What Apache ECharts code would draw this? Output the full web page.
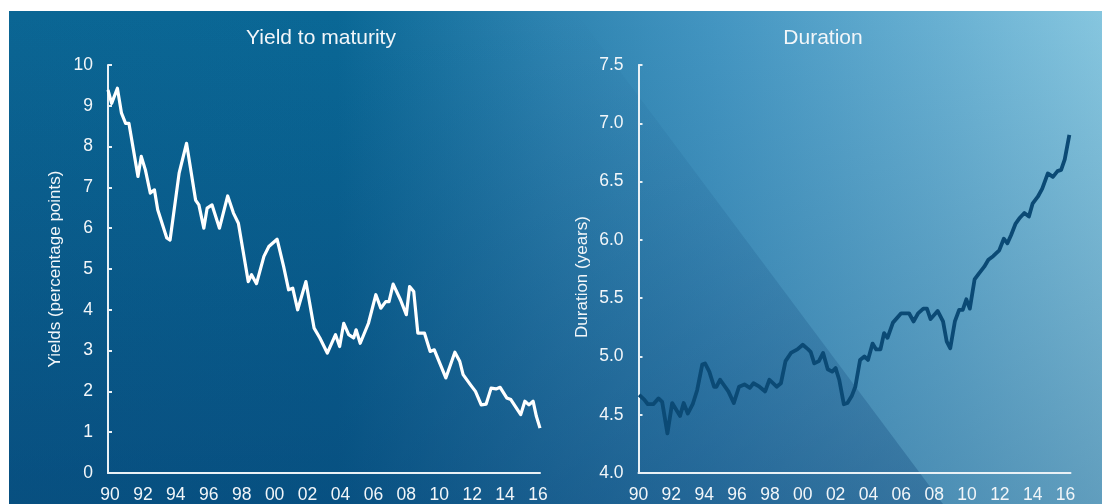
<!DOCTYPE html>
<html>
<head>
<meta charset="utf-8">
<script src="https://cdn.jsdelivr.net/npm/echarts@6/dist/echarts.min.js"></script>
<style>
html,body{margin:0;padding:0;background:#fff;}
#chart{width:1103px;height:504px;}
</style>
</head>
<body>
<div id="chart"></div>
<script>
// ---- Data ----
const xTickYears = [1990,1992,1994,1996,1998,2000,2002,2004,2006,2008,2010,2012,2014,2016];
const xTickLabels = ['90','92','94','96','98','00','02','04','06','08','10','12','14','16'];

const yieldYears = [1989.88,1990.1,1990.45,1990.7,1990.95,1991.15,1991.7,1991.9,1992.15,1992.45,1992.7,1992.9,1993.45,1993.65,1994.2,1994.65,1995.2,1995.4,1995.7,1995.9,1996.2,1996.65,1997.15,1997.5,1997.8,1998.4,1998.6,1998.9,1999.35,1999.65,2000.15,2000.55,2000.85,2001.1,2001.4,2001.9,2002.4,2002.75,2003.2,2003.7,2003.95,2004.2,2004.5,2004.8,2004.95,2005.2,2005.7,2006.15,2006.45,2006.75,2006.95,2007.2,2007.65,2008.0,2008.2,2008.45,2008.7,2009.1,2009.45,2009.7,2010.4,2010.95,2011.25,2011.45,2011.9,2012.2,2012.55,2012.85,2013.15,2013.45,2013.7,2014.1,2014.35,2014.95,2015.2,2015.45,2015.7,2015.9,2016.12];
const yieldValues = [9.39,9.06,9.43,8.82,8.57,8.57,7.27,7.76,7.43,6.86,6.94,6.45,5.76,5.71,7.35,8.08,6.69,6.57,6.0,6.49,6.57,6.0,6.79,6.37,6.12,4.69,4.86,4.64,5.31,5.55,5.73,5.06,4.49,4.53,4.0,4.69,3.55,3.31,2.94,3.39,3.10,3.67,3.39,3.31,3.51,3.18,3.67,4.37,4.04,4.2,4.2,4.63,4.24,3.88,4.57,4.45,3.43,3.43,2.98,3.02,2.33,2.96,2.73,2.41,2.16,2.0,1.67,1.69,2.08,2.06,2.10,1.84,1.80,1.43,1.76,1.67,1.76,1.39,1.10];

const durYears = [1990.04,1990.35,1990.57,1990.9,1991.22,1991.44,1991.76,1992.05,1992.53,1992.75,1993.0,1993.3,1993.57,1993.88,1994.05,1994.31,1994.6,1994.75,1994.97,1995.47,1995.8,1996.12,1996.45,1996.78,1997.0,1997.36,1997.71,1997.97,1998.41,1998.67,1998.95,1999.28,1999.67,2000.0,2000.33,2000.48,2000.7,2000.98,2001.24,2001.52,2001.79,2002.0,2002.22,2002.5,2002.72,2002.98,2003.2,2003.49,2003.75,2003.97,2004.25,2004.47,2004.73,2004.95,2005.16,2005.49,2005.99,2006.47,2006.75,2007.02,2007.34,2007.56,2007.78,2008.21,2008.54,2008.76,2008.98,2009.26,2009.52,2009.74,2009.96,2010.17,2010.46,2010.72,2011.05,2011.3,2011.59,2011.96,2012.24,2012.46,2012.68,2012.96,2013.22,2013.49,2013.77,2013.99,2014.31,2014.58,2014.92,2015.23,2015.51,2015.73,2015.95,2016.23];
const durValues = [4.67,4.63,4.59,4.59,4.64,4.61,4.34,4.6,4.49,4.6,4.51,4.59,4.71,4.93,4.94,4.87,4.74,4.74,4.8,4.7,4.6,4.74,4.76,4.73,4.77,4.74,4.70,4.8,4.74,4.77,4.96,5.03,5.06,5.1,5.06,5.04,4.94,4.96,5.03,4.89,4.87,4.9,4.8,4.59,4.6,4.66,4.74,4.97,5.0,4.97,5.11,5.06,5.06,5.2,5.16,5.29,5.37,5.37,5.3,5.37,5.41,5.41,5.32,5.39,5.3,5.13,5.07,5.3,5.4,5.4,5.49,5.41,5.66,5.71,5.77,5.83,5.86,5.91,6.01,5.97,6.04,6.14,6.19,6.23,6.2,6.31,6.37,6.44,6.57,6.54,6.59,6.6,6.69,6.9];

const titles = ['Yield to maturity', 'Duration'];
const yNames = ['Yields (percentage points)', 'Duration (years)'];

// ---- Styles ----
const FONT = '"Liberation Sans", Arial, Helvetica, sans-serif';
const TXT = '#f2f6f9';
const AXIS = '#e9f1f6';

function pairs(xs, ys){ return xs.map((x,i)=>[x, ys[i]]); }

const chart = echarts.init(document.getElementById('chart'), null, {renderer:'canvas'});

function xAxisCfg(gi, min, max){
  return {
    type:'value', gridIndex:gi, min:min, max:max,
    axisLine:{show:true, onZero:false, lineStyle:{color:AXIS, width:2}},
    axisTick:{show:false},
    splitLine:{show:false},
    axisLabel:{
      customValues:xTickYears,
      formatter:(v)=>{ const i = xTickYears.indexOf(Math.round(v)); return i>=0 ? xTickLabels[i] : ''; },
      color:TXT, fontSize:17.5, fontFamily:FONT, margin:13, hideOverlap:false
    }
  };
}
function yAxisCfg(gi, min, max, interval, name, gap, dec, pad){
  return {
    type:'value', gridIndex:gi, min:min, max:max, interval:interval,
    axisLine:{show:true, onZero:false, lineStyle:{color:AXIS, width:2}},
    axisTick:{show:true, inside:true, length:4, lineStyle:{color:AXIS, width:2}},
    splitLine:{show:false},
    axisLabel:{color:TXT, fontSize:17.5, fontFamily:FONT, margin:15,
      formatter:(v)=> dec ? v.toFixed(1) : String(v)},
    name:name, nameLocation:'middle', nameRotate:90, nameGap:gap,
    nameTextStyle:{color:TXT, fontSize:17, fontFamily:FONT, padding:pad}
  };
}

const option = {
  animation:false,
  backgroundColor:'#ffffff',
  graphic:[
    {type:'rect', z:-20, silent:true,
      shape:{x:9, y:11, width:1093, height:493},
      style:{fill:new echarts.graphic.LinearGradient(0,0,1,0,[
        {offset:0, color:'#0b6694'},
        {offset:0.3, color:'#0a6896'},
        {offset:0.5, color:'#2e84b1'},
        {offset:0.65, color:'#4496c2'},
        {offset:0.85, color:'#68b0d2'},
        {offset:1, color:'#86c6df'}
      ])}},
    {type:'rect', z:-19, silent:true,
      shape:{x:9, y:11, width:1093, height:493},
      style:{fill:new echarts.graphic.LinearGradient(0,0,0,1,[
        {offset:0, color:'rgba(10,64,112,0)'},
        {offset:1, color:'rgba(10,64,112,0.3)'}
      ])}},
    {type:'polygon', z:-18, silent:true,
      shape:{points:[[9,11],[575,11],[943,504],[9,504]]},
      style:{fill:new echarts.graphic.LinearGradient(0,0,0,1,[
        {offset:0, color:'rgba(0,50,105,0)'},
        {offset:1, color:'rgba(0,50,105,0.28)'}
      ])}},
    {type:'text', z:10, x:321, y:38,
      style:{text:titles[0], fill:TXT, font:'21px '+FONT, textAlign:'center', textVerticalAlign:'middle'}},
    {type:'text', z:10, x:823, y:38,
      style:{text:titles[1], fill:TXT, font:'21px '+FONT, textAlign:'center', textVerticalAlign:'middle'}}
  ],
  grid:[
    {left:108, top:65, width:432, height:408},
    {left:638.5, top:65, width:432, height:408}
  ],
  xAxis:[ xAxisCfg(0, 1989.88, 2016.12), xAxisCfg(1, 1990, 2016.3) ],
  yAxis:[ yAxisCfg(0, 0, 10, 1, yNames[0], 44, false, [0,0,0,0]), yAxisCfg(1, 4, 7.5, 0.5, yNames[1], 48, true, [0,16,0,0]) ],
  series:[
    {type:'line', xAxisIndex:0, yAxisIndex:0, data:pairs(yieldYears, yieldValues),
      showSymbol:false, lineStyle:{color:'#ffffff', width:3.2, join:'round'}},
    {type:'line', xAxisIndex:1, yAxisIndex:1, data:pairs(durYears, durValues),
      showSymbol:false, lineStyle:{color:'#0b4a75', width:3.8, join:'round'}}
  ]
};
chart.setOption(option);
</script>
</body>
</html>
